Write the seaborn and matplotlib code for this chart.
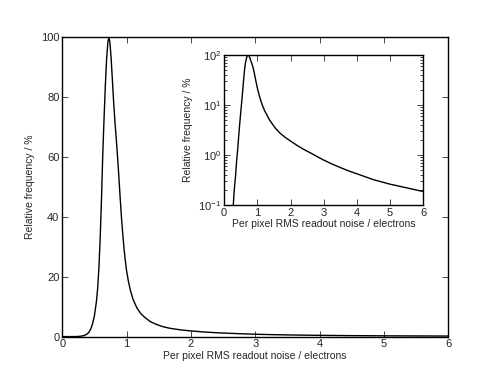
import numpy as np
import pandas as pd
import matplotlib
matplotlib.use('Agg')
import matplotlib.pyplot as plt
import seaborn as sns

# values (relative frequency, % of peak)
noise = [0.0, 0.2, 0.25, 0.30, 0.34, 0.38, 0.41, 0.44, 0.47, 0.50, 0.53, 0.55,
         0.57, 0.59, 0.61, 0.63, 0.65, 0.67, 0.69, 0.71, 0.725, 0.74, 0.76, 0.78,
         0.80, 0.82, 0.84, 0.86, 0.88, 0.90, 0.92, 0.94, 0.96, 0.98, 1.00, 1.03,
         1.06, 1.10, 1.16, 1.22, 1.29, 1.37, 1.45, 1.55, 1.68, 1.84, 2.0, 2.2,
         2.4, 2.6, 2.8, 3.0, 3.25, 3.5, 3.75, 4.0, 4.5, 5.0, 5.5, 6.0]
freq = [0.0001, 0.01, 0.05, 0.18, 0.35, 0.8, 1.3, 2.4, 4.2, 7.0, 11.5, 16.0,
        23.0, 33.0, 46.0, 61.0, 73.0, 84.0, 93.0, 98.5, 100.0, 98.5, 93.0, 85.5,
        78.0, 71.5, 66.0, 60.0, 53.5, 46.5, 40.0, 34.5, 29.5, 25.5, 22.0, 18.3,
        15.4, 12.5, 9.6, 7.7, 6.3, 5.0, 4.2, 3.4, 2.75, 2.25, 1.9, 1.55,
        1.29, 1.1, 0.93, 0.79, 0.66, 0.56, 0.48, 0.42, 0.32, 0.26, 0.22, 0.185]

xlabel = 'Per pixel RMS readout noise / electrons'
ylabel = 'Relative frequency / %'
xticks = [0, 1, 2, 3, 4, 5, 6]

df = pd.DataFrame({'noise': noise, 'freq': freq})

sns.set_style('ticks', {
    'xtick.direction': 'in', 'ytick.direction': 'in',
    'xtick.top': True, 'ytick.right': True,
    'axes.edgecolor': 'black',
})
plt.rcParams['font.family'] = ['Liberation Sans', 'DejaVu Sans']
plt.rcParams['font.size'] = 7.5

fig = plt.figure(figsize=(4.98, 3.74), dpi=100)

# --- main axes ---
ax = fig.add_axes([0.125, 0.1, 0.775, 0.8])
sns.lineplot(data=df, x='noise', y='freq', ax=ax, color='black', lw=1.0)
ax.set_xlim(0, 6)
ax.set_ylim(0, 100)
ax.set_xticks(xticks)
ax.set_xlabel(xlabel, fontsize=7.5, labelpad=1)
ax.set_ylabel(ylabel, fontsize=7.5)
ax.tick_params(direction='in', top=True, right=True, length=4, width=0.6,
               labelsize=8, pad=2)

# --- inset, log scale ---
axin = fig.add_axes([0.45, 0.452, 0.4, 0.401])
sns.lineplot(data=df, x='noise', y='freq', ax=axin, color='black', lw=1.0)
axin.set_yscale('log')
axin.set_xlim(0, 6)
axin.set_ylim(0.1, 100)
axin.set_xticks(xticks)
axin.set_xlabel(xlabel, fontsize=7.5, labelpad=1)
axin.set_ylabel(ylabel, fontsize=7.5)
axin.tick_params(which='both', direction='in', top=True, right=True,
                 width=0.6, labelsize=8, pad=2)
axin.tick_params(which='major', length=4)
axin.tick_params(which='minor', length=2)

for a in (ax, axin):
    for s in a.spines.values():
        s.set_linewidth(1.0)
        s.set_color('black')

fig.savefig('out.png', dpi=100)
